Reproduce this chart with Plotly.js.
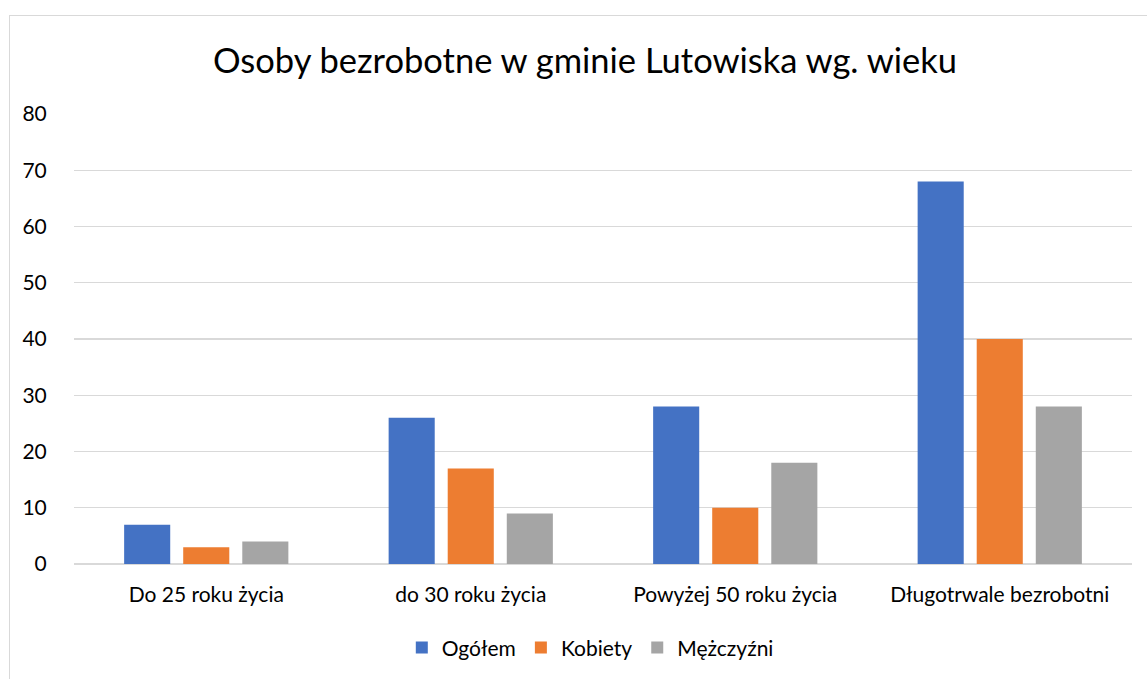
<!DOCTYPE html>
<html>
<head>
<meta charset="utf-8">
<script src="https://cdn.plot.ly/plotly-3.0.1.min.js"></script>
<style>
  html, body { margin: 0; padding: 0; background: #fff; overflow: hidden; }
  #chart { position: absolute; left: 0; top: 0; width: 1147px; height: 679px; }
  #frame { position: absolute; left: 9px; top: 15px; width: 1200px; height: 700px;
           border: 1px solid #d9d9d9; pointer-events: none; }
</style>
</head>
<body>
<div id="chart"></div>
<div id="frame"></div>
<script>
// Chart data
const categories = ['Do 25 roku życia', 'do 30 roku życia', 'Powyżej 50 roku życia', 'Długotrwale bezrobotni'];
const ogolem = [7, 26, 28, 68];
const kobiety = [3, 17, 10, 40];
const mezczyzni = [4, 9, 18, 28];
const yTicks = [0, 10, 20, 30, 40, 50, 60, 70, 80];

const FONT = 'Lato, "Open Sans", sans-serif';

const makeBar = (name, values, color) => ({
  x: categories,
  y: values,
  name: name,
  type: 'bar',
  marker: { color: color, line: { width: 0 } },
  hoverinfo: 'x+y+name'
});

const traces = [
  makeBar('Ogółem', ogolem, '#4472C4'),
  makeBar('Kobiety', kobiety, '#ED7D31'),
  makeBar('Mężczyźni', mezczyzni, '#A5A5A5')
];

const layout = {
  width: 1147,
  height: 679,
  paper_bgcolor: 'rgba(0,0,0,0)',
  plot_bgcolor: 'rgba(0,0,0,0)',
  font: { family: FONT, color: '#000', size: 21 },
  margin: { t: 114, r: 15, b: 114, l: 74 },
  barmode: 'group',
  bargap: 0.33,
  bargroupgap: 0.22,
  title: {
    text: 'Osoby bezrobotne w gminie Lutowiska wg. wieku',
    font: { family: FONT, size: 34.5, color: '#000' },
    x: 0.51,
    xanchor: 'center',
    y: 0.91,
    yanchor: 'middle'
  },
  xaxis: {
    type: 'category',
    showgrid: false,
    showline: false,
    zeroline: false,
    ticks: 'outside',
    ticklen: 12,
    tickcolor: 'rgba(0,0,0,0)',
    tickfont: { family: FONT, size: 21, color: '#000' }
  },
  yaxis: {
    range: [0, 80],
    tickvals: yTicks,
    showgrid: true,
    gridcolor: '#d9d9d9',
    gridwidth: 1.3,
    zeroline: true,
    zerolinecolor: '#d9d9d9',
    zerolinewidth: 1.5,
    showline: false,
    ticks: 'outside',
    ticklen: 22,
    tickcolor: 'rgba(0,0,0,0)',
    tickfont: { family: FONT, size: 21, color: '#000' }
  },
  showlegend: true,
  legend: {
    orientation: 'h',
    x: 0.488,
    xanchor: 'center',
    y: -0.138,
    yanchor: 'top',
    font: { family: FONT, size: 21, color: '#000' },
    itemwidth: 30,
    traceorder: 'normal'
  }
};

Plotly.newPlot('chart', traces, layout, { displayModeBar: false, staticPlot: true });
</script>
</body>
</html>
